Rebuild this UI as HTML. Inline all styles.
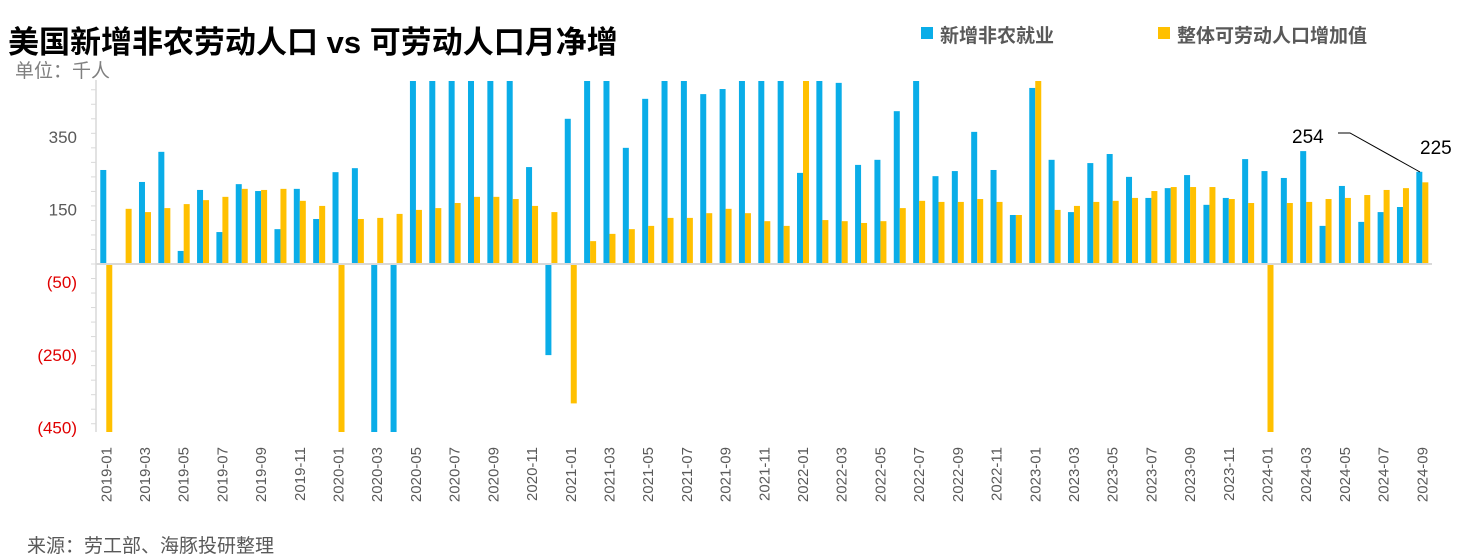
<!DOCTYPE html>
<html><head><meta charset="utf-8">
<style>
body{margin:0;background:#fff;}
svg{display:block;font-family:"Liberation Sans","Noto Sans CJK SC",sans-serif;}
</style></head>
<body>
<svg id="chart" width="1481" height="558" viewBox="0 0 1481 558">
<text x="8" y="53" font-size="31" font-weight="bold" fill="#000">美国新增非农劳动人口 vs 可劳动人口月净增</text>
<text x="15" y="77" font-size="19" fill="#7f7f7f">单位：千人</text>
<rect x="921" y="27" width="12" height="12" fill="#0AADE8"/>
<text x="940" y="42" font-size="19" font-weight="bold" fill="#595959">新增非农就业</text>
<rect x="1158" y="27" width="12" height="12" fill="#FFC000"/>
<text x="1177" y="42" font-size="19" font-weight="bold" fill="#595959">整体可劳动人口增加值</text>
<text x="27" y="552" font-size="19" fill="#595959">来源：劳工部、海豚投研整理</text>
<g id="plot"></g>
<text x="1292" y="143" font-size="19" fill="#000">254</text>
<polyline points="1338,133 1350,133 1420,172" fill="none" stroke="#000" stroke-width="1"/>
<text x="1420" y="154" font-size="19" fill="#000">225</text>
</svg>
<script>
const months = [];
for (let y = 2019; y <= 2024; y++) for (let m = 1; m <= 12; m++) { if (y === 2024 && m > 9) break; months.push(y + '-' + String(m).padStart(2, '0')); }
const nfp = [259,0,226,309,36,204,88,220,201,96,207,124,
 253,264,-1400,-20000,2700,4800,1700,1500,700,680,267,-251,
 400,600,700,320,455,600,600,468,482,600,600,600,
 251,600,499,273,287,421,600,242,256,364,259,135,
 485,287,143,278,303,240,182,209,245,163,182,289,
 256,237,311,105,215,116,143,157,254];
const labor = [-600,152,143,154,165,176,185,207,204,207,174,160,
 -700,124,127,138,149,154,168,185,185,179,160,143,
 -384,63,83,96,105,127,127,140,152,140,118,105,
 600,121,118,113,118,154,174,171,171,179,171,135,
 520,149,160,171,174,182,201,212,212,212,179,168,
 -700,168,171,179,182,190,204,209,225];
const yTicks = [350,150,-50,-250,-450];
const yTickText = ['350','150','(50)','(250)','(450)'];

const NS = 'http://www.w3.org/2000/svg';
const plot = document.getElementById('plot');
const X0 = 96.6, X1 = 1432, Y0 = 264, K = 0.363, TOP = 81, BOT = 432;
const bw = (X1 - X0) / months.length;
const xC = i => X0 + bw * (i + 0.5);
const yS = v => Math.max(TOP, Math.min(BOT, Y0 - v * K));
function mk(tag, attrs) { const e = document.createElementNS(NS, tag); for (const k in attrs) e.setAttribute(k, attrs[k]); plot.appendChild(e); return e; }

const ax = mk('line', {x1: 96, y1: 80, x2: 96, y2: 432, stroke: '#d9d9d9', 'stroke-width': 1.5});


for (let v = -440; v <= 500; v += 40) {
  const t = mk('line', {x1: 91, y1: Y0 - v * K, x2: 96, y2: Y0 - v * K, stroke: '#d9d9d9', 'stroke-width': 1});
  
  
}
yTicks.forEach((v, i) => {
  const t = mk('text', {x: 77, y: Y0 - v * K + 6, 'text-anchor': 'end', 'font-size': 17, fill: v < 0 ? '#e00000' : '#595959'});
  t.textContent = yTickText[i];
  
  
});
months.forEach((m, i) => {
  const c = xC(i);
  const b = mk('rect', {x: c - 6, y: Math.min(yS(nfp[i]), Y0), width: 6, height: Math.abs(yS(nfp[i]) - Y0), fill: '#0AADE8'});
  
  
  const l = mk('rect', {x: c, y: Math.min(yS(labor[i]), Y0), width: 6, height: Math.abs(yS(labor[i]) - Y0), fill: '#FFC000'});
  
  
  if (i % 2 === 0) {
    const t = mk('text', {x: 0, y: 0, 'text-anchor': 'end', 'font-size': 15, fill: '#595959', transform: `translate(${c + 5},447) rotate(-90)`});
    t.textContent = m;
    
    
  }
});
const z = mk('line', {x1: 96, y1: Y0, x2: X1, y2: Y0, stroke: '#d9d9d9', 'stroke-width': 2});


</script>
</body></html>
